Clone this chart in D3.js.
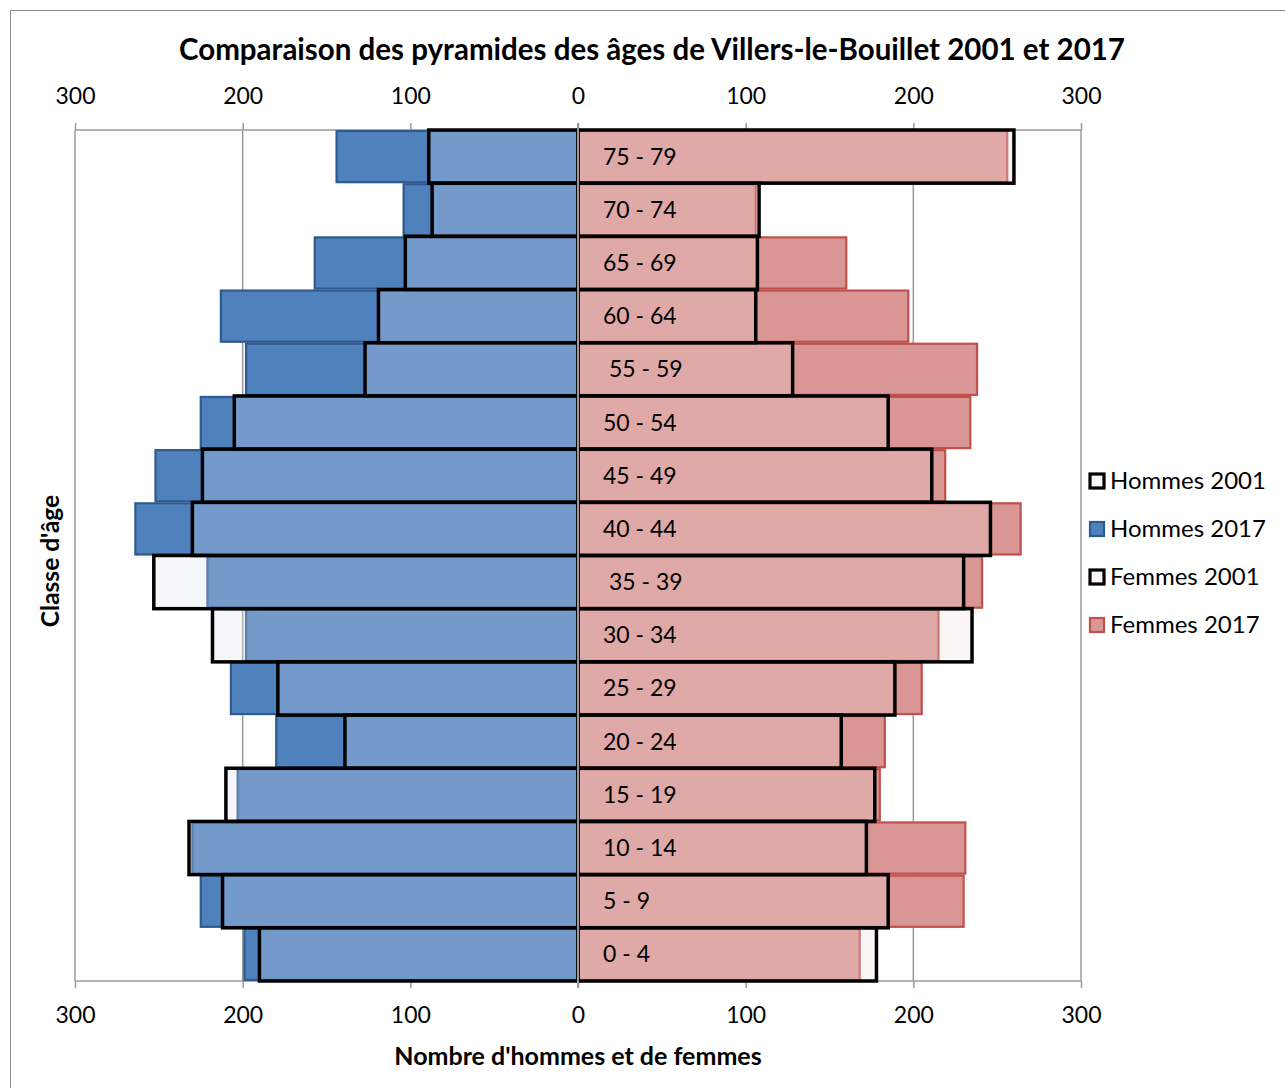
<!DOCTYPE html>
<html><head><meta charset="utf-8">
<script src="https://cdn.jsdelivr.net/npm/d3@7"></script>
<style>html,body{margin:0;padding:0;background:#fff}svg{display:block}text{white-space:pre}</style>
</head><body>
<svg id="c" width="1285" height="1088"></svg>
<script>
const categories = ["75 - 79","70 - 74","65 - 69","60 - 64"," 55 - 59","50 - 54","45 - 49","40 - 44"," 35 - 39","30 - 34","25 - 29","20 - 24","15 - 19","10 - 14","5 - 9","0 - 4"];
const hommes2001 = [89, 87, 103, 119, 127, 205, 224, 230, 253, 218, 179, 139, 210, 232, 212, 190];
const hommes2017 = [144, 104, 157, 213, 198, 225, 252, 264, 221, 198, 207, 180, 203, 230, 225, 199];
const femmes2001 = [260, 108, 107, 106, 128, 185, 211, 246, 230, 235, 189, 157, 177, 172, 185, 178];
const femmes2017 = [256, 106, 160, 197, 238, 234, 219, 264, 241, 215, 205, 183, 180, 231, 230, 168];
const tickValues = [-300, -200, -100, 0, 100, 200, 300];
const legendLabels = ["Hommes 2001", "Hommes 2017", "Femmes 2001", "Femmes 2017"];
const title = "Comparaison des pyramides des âges de Villers-le-Bouillet 2001 et 2017";
const xTitle = "Nombre d'hommes et de femmes";
const yTitle = "Classe d'âge";

const svg = d3.select("#c");
const font = "Lato, 'Open Sans', sans-serif";
const L = 75, R = 1081, T = 130, B = 981;
const x = d3.scaleLinear().domain([-300, 300]).range([L, R]);
const y = d3.scaleBand().domain(categories).range([T, B]).padding(0);

// outer frame
svg.append("rect").attr("x", 10.5).attr("y", 10.5).attr("width", 1300).attr("height", 1100)
  .attr("fill", "#fff").attr("stroke", "#8c8c8c").attr("stroke-width", 1);

// gridlines
svg.append("g").selectAll("line").data(tickValues).join("line")
  .attr("x1", d => x(d)).attr("x2", d => x(d)).attr("y1", T).attr("y2", B)
  .attr("stroke", "#9a9a9a").attr("stroke-width", 1.5);
svg.append("line").attr("x1", L).attr("x2", R).attr("y1", T).attr("y2", T).attr("stroke", "#9a9a9a").attr("stroke-width", 1.5);
svg.append("line").attr("x1", L).attr("x2", R).attr("y1", B).attr("y2", B).attr("stroke", "#9a9a9a").attr("stroke-width", 1.5);

const fmt = d => Math.abs(d);
const axTop = d3.axisTop(x).tickValues(tickValues).tickFormat(fmt).tickSize(7).tickPadding(19);
const axBot = d3.axisBottom(x).tickValues(tickValues).tickFormat(fmt).tickSize(7).tickPadding(19);
function styleAxis(g) {
  g.select(".domain").remove();
  g.selectAll(".tick line").attr("stroke", "#9a9a9a").attr("stroke-width", 1.5);
  g.selectAll(".tick text").attr("font-family", font).attr("font-size", 23).attr("fill", "#000");
}
svg.append("g").attr("transform", `translate(0,${T})`).call(axTop).call(styleAxis);
svg.append("g").attr("transform", `translate(0,${B})`).call(axBot).call(styleAxis);

const bh = y.bandwidth();
// 2017 bars
svg.append("g").selectAll("rect").data(categories).join("rect")
  .attr("x", (d, i) => x(-hommes2017[i])).attr("y", d => y(d) + 1)
  .attr("width", (d, i) => x(0) - x(-hommes2017[i])).attr("height", bh - 2)
  .attr("fill", "#4f81bd").attr("stroke", "#2f5a8f").attr("stroke-width", 2.2);
svg.append("g").selectAll("rect").data(categories).join("rect")
  .attr("x", x(0)).attr("y", d => y(d) + 1)
  .attr("width", (d, i) => x(femmes2017[i]) - x(0)).attr("height", bh - 2)
  .attr("fill", "#d99694").attr("stroke", "#c0504d").attr("stroke-width", 2.2);

// 2001 bars (semi-transparent overlay)
svg.append("g").selectAll("rect").data(categories).join("rect")
  .attr("x", (d, i) => x(-hommes2001[i])).attr("y", d => y(d))
  .attr("width", (d, i) => x(0) - x(-hommes2001[i])).attr("height", bh)
  .attr("fill", "rgba(213,222,238,0.27)").attr("stroke", "#000").attr("stroke-width", 3.5);
svg.append("g").selectAll("rect").data(categories).join("rect")
  .attr("x", x(0)).attr("y", d => y(d))
  .attr("width", (d, i) => x(femmes2001[i]) - x(0)).attr("height", bh)
  .attr("fill", "rgba(240,222,222,0.27)").attr("stroke", "#000").attr("stroke-width", 3.5);

// center line
svg.append("line").attr("x1", x(0)).attr("x2", x(0)).attr("y1", T - 7).attr("y2", B + 7)
  .attr("stroke", "#9a9a9a").attr("stroke-width", 2);

// category labels
svg.append("g").selectAll("text").data(categories).join("text")
  .attr("x", x(0) + 25).attr("y", d => y(d) + bh / 2 + 8)
  .attr("font-family", font).attr("font-size", 23).attr("fill", "#000")
  .text(d => d);

// titles
svg.append("text").attr("x", 652).attr("y", 60).attr("text-anchor", "middle")
  .attr("font-family", font).attr("font-weight", "bold").attr("font-size", 29.5).text(title);
svg.append("text").attr("x", 578).attr("y", 1065).attr("text-anchor", "middle")
  .attr("font-family", font).attr("font-weight", "bold").attr("font-size", 25).text(xTitle);
svg.append("text").attr("transform", "translate(59,561) rotate(-90)").attr("text-anchor", "middle")
  .attr("font-family", font).attr("font-weight", "bold").attr("font-size", 24.5).text(yTitle);

// legend
const swFill = ["#f5f7fb", "#4f81bd", "#fcf6f6", "#d99694"];
const swStroke = ["#000", "#2f5a8f", "#000", "#c0504d"];
const lg = svg.append("g").selectAll("g").data(legendLabels).join("g")
  .attr("transform", (d, i) => `translate(1089,${473 + i * 48})`);
lg.append("rect").attr("x", 1).attr("y", 1).attr("width", 14).attr("height", 14)
  .attr("fill", (d, i) => swFill[i]).attr("stroke", (d, i) => swStroke[i]).attr("stroke-width", (d, i) => i % 2 ? 2.2 : 3.2);
lg.append("text").attr("x", 21).attr("y", 16).attr("font-family", font).attr("font-size", 24).text(d => d);
</script>
</body></html>
